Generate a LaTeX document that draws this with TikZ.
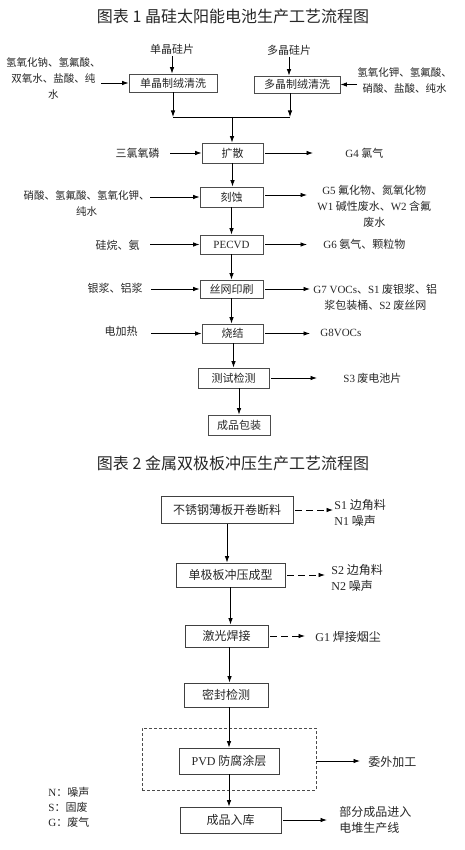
\documentclass[tikz,border=0pt]{standalone}
\usepackage{fontspec}
\setmainfont{Liberation Serif}
\newfontfamily\cjk{Noto Sans CJK SC}
\newcommand\lat[1]{{\rmfamily #1}}
\usetikzlibrary{arrows.meta}

\begin{document}
\begin{tikzpicture}[x=1pt,y=-1pt,
    line width=0.8pt,
    >={Latex[length=6.5pt,width=4.5pt]},
    every node/.style={font=\cjk\fontsize{11}{16}\selectfont, text=black!85, inner sep=0pt},
    proc/.style={draw=black!70},
    chem/.style={font=\cjk\fontsize{10.5}{16}\selectfont, align=center},
    proctwo/.style={draw=black!75, font=\cjk\fontsize{12}{16}\selectfont},
    sidetwo/.style={font=\cjk\fontsize{12}{16}\selectfont},
    title/.style={font=\cjk\fontsize{16}{18}\selectfont},
    dasharr/.style={->, dash pattern=on 7pt off 4pt}]

    \useasboundingbox (0,0) rectangle (465,850);

    % --- chart 1: crystalline silicon cells ---
    \node[title] (t1) at (233,16) {图表 1 晶硅太阳能电池生产工艺流程图};

    % texturing and cleaning
    \node (monosrc) at (172,49) {单晶硅片};
    \node (polysrc) at (289,50) {多晶硅片};
    \node[proc, minimum width=88pt, minimum height=18pt] (mono) at (173,83) {单晶制绒清洗};
    \node[proc, minimum width=86pt, minimum height=17pt] (poly) at (297,84.5) {多晶制绒清洗};
    \node[chem, anchor=east] (monochem) at (101,78) {氢氧化钠、氢氟酸、\\双氧水、盐酸、纯\\水};
    \node[chem, anchor=west] (polychem) at (357,80) {氢氧化钾、氢氟酸、\\硝酸、盐酸、纯水};

    \draw[->, shorten <=2pt] (monosrc.south) -- (monosrc.south |- mono.north);
    \draw[->, shorten <=2pt] (polysrc.south) -- (polysrc.south |- poly.north);
    \draw[->] (monochem.east |- mono) -- (mono.west);
    \draw[->] (polychem.west |- poly) -- (poly.east);

    % merge
    \coordinate (merge) at (232,117);
    \coordinate (mergeR) at (290,117);
    \draw[->] (mono.south) -- (mono.south |- merge);
    \draw[->] (poly.south -| mergeR) -- (mergeR);
    \draw (mono.south |- merge) -- (mergeR);

    % main steps
    \node[proc, minimum width=61pt, minimum height=20pt] (diff) at (232.5,153) {扩散};
    \node[proc, minimum width=63pt, minimum height=20pt] (etch) at (231.5,197) {刻蚀};
    \node[proc, minimum width=63pt, minimum height=19pt] (pecvd) at (231.5,244.5) {\lat{PECVD}};
    \node[proc, minimum width=63pt, minimum height=18pt] (print) at (231.5,289) {丝网印刷};
    \node[proc, minimum width=61pt, minimum height=19pt] (sinter) at (232.5,333.5) {烧结};
    \node[proc, minimum width=71pt, minimum height=20pt] (test) at (233.5,378) {测试检测};
    \node[proc, minimum width=62pt, minimum height=20pt] (pack) at (239,425) {成品包装};

    \draw[->] (merge) -- (merge |- diff.north);
    \draw[->] (diff.south) -- (diff.south |- etch.north);
    \draw[->] (etch.south) -- (etch.south |- pecvd.north);
    \draw[->] (pecvd.south) -- (pecvd.south |- print.north);
    \draw[->] (print.south) -- (print.south |- sinter.north);
    \draw[->] (test.north |- sinter.south) -- (test.north);
    \draw[->] (test.south -| pack) -- (pack.north);

    % inputs
    \node[anchor=east] (pocl) at (160,153) {三氯氧磷};
    \node[chem, anchor=east] (etchchem) at (150,203) {硝酸、氢氟酸、氢氧化钾、\\纯水};
    \node[anchor=east] (sih4) at (140,245) {硅烷、氨};
    \node[anchor=east] (paste) at (143,288) {银浆、铝浆};
    \node[anchor=east] (heat) at (138,331) {电加热};

    \draw[->, shorten <=10pt] (pocl.east) -- (diff.west);
    \draw[->] (etchchem.east |- etch) -- (etch.west);
    \draw[->, shorten <=10pt] (sih4.east |- pecvd) -- (pecvd.west);
    \draw[->, shorten <=8pt] (paste.east |- print) -- (print.west);
    \draw[->, shorten <=13pt] (heat.east |- sinter) -- (sinter.west);

    % emissions
    \node[anchor=west] (g4) at (345,153) {\lat{G4} 氯气};
    \node[align=center, anchor=west] (g5) at (317,206) {\lat{G5} 氟化物、氮氧化物\\\lat{W1} 碱性废水、\lat{W2} 含氟\\废水};
    \node[anchor=west] (g6) at (323,244) {\lat{G6} 氨气、颗粒物};
    \node[align=center, anchor=west] (g7) at (313,297.5) {\lat{G7 VOCs}、\lat{S1} 废银浆、铝\\浆包装桶、\lat{S2} 废丝网};
    \node[anchor=west] (g8) at (320,333) {\lat{G8VOCs}};
    \node[anchor=west] (s3) at (343,378) {\lat{S3} 废电池片};

    \draw[->, shorten <=2pt, shorten >=32pt] (diff.east) -- (diff.east -| g4.west);
    \draw[->, shorten <=2pt, shorten >=10pt] ([yshift=2pt]etch.east) -- ([yshift=2pt]etch.east -| g5.west);
    \draw[->, shorten <=2pt, shorten >=16pt] (pecvd.east) -- (pecvd.east -| g6.west);
    \draw[->, shorten <=2pt, shorten >=3pt] (print.east) -- (print.east -| g7.west);
    \draw[->, shorten <=2pt, shorten >=10pt] (sinter.east) -- (sinter.east -| g8.west);
    \draw[->, shorten <=2pt, shorten >=26pt] (test.east) -- (test.east -| s3.west);

    % --- chart 2: metal bipolar plates ---
    \node[title] (t2) at (233,463) {图表 2 金属双极板冲压生产工艺流程图};

    \node[proctwo, minimum width=132pt, minimum height=27pt] (cut) at (227,510) {不锈钢薄板开卷断料};
    \node[proctwo, minimum width=109pt, minimum height=24pt] (stamp) at (230.5,575) {单极板冲压成型};
    \node[proctwo, minimum width=83pt, minimum height=22pt] (weld) at (226.5,636) {激光焊接};
    \node[proctwo, minimum width=84pt, minimum height=24pt] (seal) at (226,695) {密封检测};
    \node[draw=black!70, dash pattern=on 3pt off 2pt, minimum width=174pt, minimum height=62pt] (frame) at (229,759) {};
    \node[proctwo, minimum width=100pt, minimum height=26pt] (pvd) at (229,761) {\lat{PVD} 防腐涂层};
    \node[proctwo, minimum width=101pt, minimum height=26pt] (store) at (230.5,820) {成品入库};

    \draw[->] (cut.south) -- (cut.south |- stamp.north);
    \draw[->] (stamp.south) -- (stamp.south |- weld.north);
    \draw[->] ([xshift=3pt]weld.south) -- ([xshift=3pt]weld.south |- seal.north);
    \draw[->] (pvd.north |- seal.south) -- (pvd.north);
    \draw[->] (pvd.south) -- (pvd.south |- store.north);

    % by-products
    \node[sidetwo, align=left, anchor=west] (s1) at (334,512.5) {\lat{S1} 边角料\\\lat{N1} 噪声};
    \node[sidetwo, align=left, anchor=west] (s2) at (331,578) {\lat{S2} 边角料\\\lat{N2} 噪声};
    \node[sidetwo, anchor=west] (g1) at (315,637) {\lat{G1} 焊接烟尘};
    \node[sidetwo, anchor=west] (outsrc) at (368,762) {委外加工};
    \node[sidetwo, align=left, anchor=west] (stack) at (339,820) {部分成品进入\\电堆生产线};

    \draw[dasharr, shorten <=2pt, shorten >=1pt] (cut.east) -- (cut.east -| s1.west);
    \draw[dasharr, shorten <=2pt, shorten >=6pt] (stamp.east) -- (stamp.east -| s2.west);
    \draw[dasharr, shorten <=2pt, shorten >=10pt] (weld.east) -- (weld.east -| g1.west);
    \draw[->, shorten >=8pt] (frame.east |- pvd) -- (pvd -| outsrc.west);
    \draw[->, shorten <=2pt, shorten >=12pt] (store.east) -- (store.east -| stack.west);

    % legend
    \node[font=\cjk\fontsize{11}{15}\selectfont, align=left, anchor=west] (legend) at (48,807) {\lat{N}：噪声\\\lat{S}：固废\\\lat{G}：废气};

\end{tikzpicture}
\end{document}
